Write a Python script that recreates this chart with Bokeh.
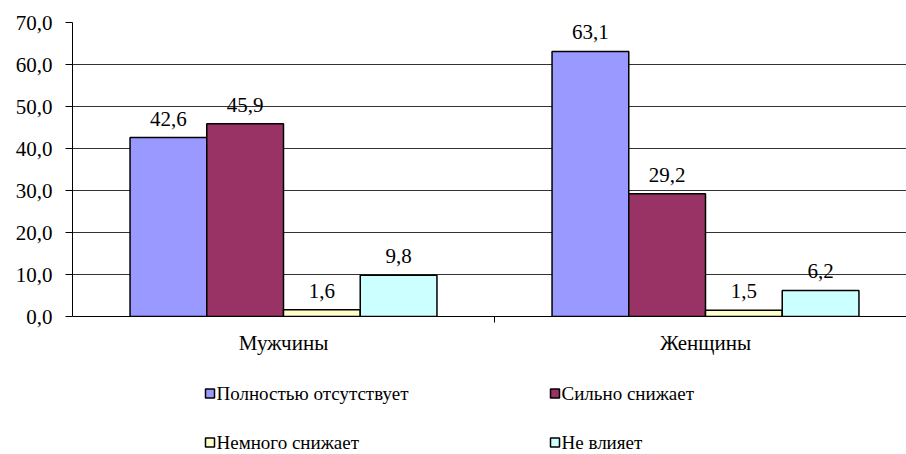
from bokeh.plotting import figure
from bokeh.models import Range1d, FixedTicker, ColumnDataSource, Label
from bokeh.layouts import column
from bokeh.embed import file_html
from bokeh.resources import INLINE

categories = ["Мужчины", "Женщины"]
series_names = ["Полностью отсутствует", "Сильно снижает", "Немного снижает", "Не влияет"]
full_absent = [42.6, 63.1]
strongly_reduces = [45.9, 29.2]
slightly_reduces = [1.6, 1.5]
no_effect = [9.8, 6.2]
y_ticks = [0, 10, 20, 30, 40, 50, 60, 70]

series_values = [full_absent, strongly_reduces, slightly_reduces, no_effect]
colors = ["#9999FF", "#993366", "#FFFFCC", "#CCFFFF"]
FONT = "Liberation Serif"
FS = "21px"

p = figure(width=906, height=360, output_backend="svg", toolbar_location=None,
           x_range=Range1d(0, 834 / 422), y_range=Range1d(0, 70),
           min_border_left=72, min_border_right=0, min_border_top=22, min_border_bottom=44)
p.outline_line_color = None
p.background_fill_color = "white"
p.border_fill_color = "white"

n = len(series_names)
w = 1 / (n + 1.5)
gap = 0.75 * w
for i, (name, vals, col) in enumerate(zip(series_names, series_values, colors)):
    xs = [k + gap + w * (i + 0.5) for k in range(len(categories))]
    src = ColumnDataSource(dict(x=xs, top=vals))
    p.vbar(x="x", top="top", width=w, bottom=0, source=src, fill_color=col,
           line_color="black", line_width=1.5)
    for x, v in zip(xs, vals):
        p.add_layout(Label(x=x, y=v, text=("%.1f" % v).replace(".", ","), text_align="center",
                           text_baseline="middle", y_offset=19, text_font=FONT,
                           text_font_size=FS, text_color="black"))

# axes
p.yaxis.ticker = FixedTicker(ticks=y_ticks)
p.yaxis.major_label_overrides = {t: ("%.1f" % t).replace(".", ",") for t in y_ticks}
p.yaxis.major_label_text_font = FONT
p.yaxis.major_label_text_font_size = FS
p.yaxis.major_label_text_color = "black"
p.yaxis.axis_line_color = "black"
p.yaxis.major_tick_line_color = "black"
p.yaxis.major_tick_out = 7
p.yaxis.major_tick_in = 0
p.yaxis.minor_tick_line_color = None
p.yaxis.major_label_standoff = 13

centers = [k + 0.5 for k in range(len(categories))]
p.xaxis.ticker = FixedTicker(ticks=centers, minor_ticks=[1])
p.xaxis.major_label_overrides = {c: lab for c, lab in zip(centers, categories)}
p.xaxis.major_label_text_font = FONT
p.xaxis.major_label_text_font_size = FS
p.xaxis.major_label_text_color = "black"
p.xaxis.axis_line_color = "black"
p.xaxis.major_tick_line_color = None
p.xaxis.major_tick_out = 0
p.xaxis.major_tick_in = 0
p.xaxis.minor_tick_line_color = "black"
p.xaxis.minor_tick_out = 6
p.xaxis.minor_tick_in = 0
p.xaxis.major_label_standoff = 8

p.xgrid.grid_line_color = None
p.ygrid.ticker = FixedTicker(ticks=y_ticks)
p.ygrid.grid_line_color = "#333333"
p.ygrid.grid_line_width = 1

# legend panel (screen-like coordinates, frame aligned with the chart above)
p2 = figure(width=906, height=94, output_backend="svg", toolbar_location=None,
            x_range=Range1d(72, 906), y_range=Range1d(454, 360),
            min_border_left=0, min_border_right=0, min_border_top=0, min_border_bottom=0)
p2.axis.visible = False
p2.grid.visible = False
p2.outline_line_color = None
p2.border_fill_color = "white"
p2.background_fill_color = "white"

col_x = [205, 550]
row_y = [393, 442]
lx = [col_x[i % 2] for i in range(n)]
ly = [row_y[i // 2] for i in range(n)]
leg_src = ColumnDataSource(dict(sx=[x + 4.5 for x in lx], y=ly, color=colors))
p2.rect(x="sx", y="y", width=9, height=9, source=leg_src, fill_color="color",
        line_color="black", line_width=1.5)
for x, y, nm in zip(lx, ly, series_names):
    p2.add_layout(Label(x=x + 11, y=y, text=nm, text_align="left", text_baseline="middle",
                        text_font=FONT, text_font_size="19px", text_color="black"))

layout = column(p, p2, spacing=0)
open("out.html", "w").write(file_html(layout, INLINE))
